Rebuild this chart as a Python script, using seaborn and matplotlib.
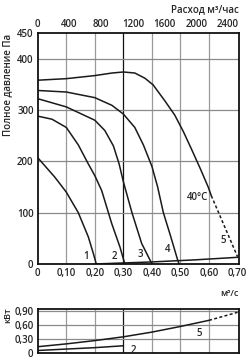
import matplotlib
matplotlib.use("Agg")
import matplotlib.pyplot as plt
import seaborn as sns
import pandas as pd

sns.set_theme(style="white")
plt.rcParams['font.family'] = ['Open Sans', 'DejaVu Sans']

# ---- data (flow m3/s, pressure Pa) ----
q1 = [0, 0.06, 0.1, 0.142, 0.177, 0.195, 0.205]
p1 = [207, 169, 140, 100, 53, 20, 0]
q2 = [0, 0.05, 0.1, 0.142, 0.177, 0.2, 0.224, 0.259, 0.288, 0.305]
p2 = [288, 282, 266, 232, 195, 172, 143, 79, 33, 0]
q3 = [0, 0.1, 0.2, 0.235, 0.265, 0.285, 0.3, 0.33, 0.364, 0.393, 0.40]
p3 = [322, 306, 280, 260, 230, 195, 160, 100, 40, 8, 0]
q4 = [0, 0.1, 0.2, 0.26, 0.3, 0.34, 0.37, 0.40, 0.42, 0.44, 0.465, 0.49, 0.495]
p4 = [338, 335, 324, 309, 292, 266, 232, 190, 150, 100, 55, 8, 0]
q5 = [0, 0.1, 0.2, 0.26, 0.30, 0.34, 0.375, 0.404, 0.445, 0.48, 0.51, 0.54, 0.57, 0.597, 0.608]
p5 = [358, 361, 367, 372, 374, 372, 362, 349, 318, 290, 258, 222, 185, 150, 133]
q5d = [0.608, 0.70]
p5d = [133, 14]
qb = [0.2, 0.4, 0.55, 0.7]
pb = [0, 4, 8, 13]

# power (kW)
qk5 = [0, 0.1, 0.2, 0.3, 0.4, 0.5, 0.6]
k5 = [0.14, 0.20, 0.27, 0.35, 0.45, 0.57, 0.70]
qk5d = [0.6, 0.7]
k5d = [0.70, 0.87]
qk2 = [0, 0.1, 0.2, 0.3]
k2 = [0.06, 0.09, 0.12, 0.16]

xticks = [0, 0.1, 0.2, 0.3, 0.4, 0.5, 0.6, 0.7]
xlabels = ["0", "0,10", "0,20", "0,30", "0,40", "0,50", "0,60", "0,70"]
yticks = [0, 100, 200, 300, 400, 450]
ylabels = ["0", "100", "200", "300", "400", "450"]
top_ticks = [0, 400, 800, 1200, 1600, 2000, 2400]
kticks = [0, 0.3, 0.6, 0.9]
klabels = ["0", "0,30", "0,60", "0,90"]

curve_labels = ["1", "2", "3", "4", "5"]
label_pos_q = [0.168, 0.27, 0.361, 0.455, 0.649]
label_pos_p = [14, 15, 19, 28, 45]

fig = plt.figure(figsize=(2.5, 3.6), dpi=100)
ax = fig.add_axes([0.151, 0.2667, 0.805, 0.6417])
axk = fig.add_axes([0.151, 0.0186, 0.805, 0.1217])

lc = "#1a1a1a"
lw = 1.1
fs = 7

def line(a, x, y, **kw):
    df = pd.DataFrame({"x": x, "y": y})
    sns.lineplot(data=df, x="x", y="y", ax=a, sort=False, estimator=None,
                 color=lc, linewidth=lw, **kw)

for a, yl, ytk in [(ax, (0, 450), [100, 200, 300, 400]), (axk, (0, 0.93), [0.3, 0.6, 0.9])]:
    a.set_xlim(0, 0.705)
    a.set_ylim(*yl)
    for xv in xticks[1:-1]:
        a.axvline(xv, color="#111111" if abs(xv - 0.3) < 1e-6 else "#9a9a9a",
                  linewidth=0.9, zorder=0)
    for yv in ytk:
        a.axhline(yv, color="#8a8a8a", linewidth=0.9, zorder=0)
    for s in a.spines.values():
        s.set_color("#111111")
        s.set_linewidth(1.3)
    a.tick_params(length=0, labelsize=fs, pad=3)

for q, p in [(q1, p1), (q2, p2), (q3, p3), (q4, p4), (q5, p5), (qb, pb)]:
    line(ax, q, p)
line(ax, q5d, p5d, linestyle=(0, (2, 1.5)))

for t, x, y in zip(curve_labels, label_pos_q, label_pos_p):
    ax.text(x, y, t, fontsize=fs, fontweight="semibold", ha="center", va="center")
ax.text(0.559, 130, "40°C", fontsize=fs, fontweight="semibold", ha="center", va="center")

ax.set_xticks(xticks)
ax.set_xticklabels(xlabels, fontweight="semibold")
ax.set_yticks(yticks)
ax.set_yticklabels(ylabels, fontweight="semibold")
ax.set_xlabel("")
ax.set_ylabel("")

top = ax.secondary_xaxis("top", functions=(lambda v: v * 3600, lambda m: m / 3600))
top.set_xticks(top_ticks)
top.set_xticklabels([str(t) for t in top_ticks], fontweight="semibold")
top.tick_params(length=0, labelsize=fs, pad=2)
top.spines["top"].set_visible(False)

line(axk, qk5, k5)
line(axk, qk5d, k5d, linestyle=(0, (2, 1.5)))
line(axk, qk2, k2)
axk.text(0.565, 0.42, "5", fontsize=fs, fontweight="semibold", ha="center", va="center")
axk.text(0.335, 0.07, "2", fontsize=fs, fontweight="semibold", ha="center", va="center")
axk.set_xticks([])
axk.set_yticks(kticks)
axk.set_yticklabels(klabels, fontweight="semibold")
axk.set_xlabel("")
axk.set_ylabel("")

fig.text(0.03, 0.905, "Полное давление Па", rotation=90, ha="center", va="top",
         fontsize=fs, fontweight="semibold")
fig.text(0.955, 0.99, "Расход м³/час", ha="right", va="top", fontsize=fs, fontweight="semibold")
fig.text(0.955, 0.185, "м³/с", ha="right", va="center", fontsize=fs - 0.5, fontweight="semibold")
fig.text(0.03, 0.145, "кВт", rotation=90, ha="center", va="top", fontsize=fs - 0.5,
         fontweight="semibold")

fig.savefig("out.png", dpi=100)
